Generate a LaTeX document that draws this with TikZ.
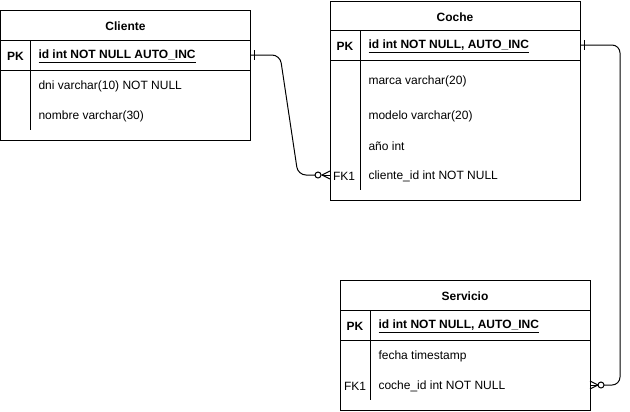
\documentclass[tikz,border=0pt]{standalone}
\usepackage{fontspec}
\setmainfont{Liberation Sans}
\begin{document}
\begin{tikzpicture}[x=0.75pt,y=-0.75pt,line width=0.75pt,
  font=\fontsize{9}{11}\selectfont,
  cell/.style={draw,rectangle,inner sep=0pt,outer sep=0pt,minimum width=187.5pt,minimum height=#1},
  cell/.default=22.5pt,
  row/.style={rectangle,inner sep=0pt,outer sep=0pt,minimum width=187.5pt,minimum height=22.5pt},
  fld/.style={anchor=west,inner sep=0pt,yshift=-1.1pt},
  key/.style={inner sep=0pt,yshift=-1.1pt},
  title/.style={font=\fontsize{9}{11}\selectfont\bfseries,inner sep=0pt,yshift=-1.1pt},
  conn/.style={line width=0.75pt,rounded corners=6pt}]
\useasboundingbox (0,0) rectangle (630,411);

% ---------- Cliente ----------
\node[cell] (cli-h) at (125.5,25) {};
\node[cell] (cli-pk) at (125.5,55) {};
\node[cell=52.5pt] (cli-b) at (125.5,105) {};
\node[title] (cli-t) at (125.5,25) {Cliente};
\draw (30.5,40) -- (30.5,130);
\node[key,font=\fontsize{9}{11}\selectfont\bfseries] (cli-pkl) at (15.5,55) {PK};
\node[fld,font=\fontsize{9}{11}\selectfont\bfseries] (cli-id) at (38,55) {\underline{id int NOT NULL AUTO\_INC}};
\node[fld] (cli-dni) at (38,85) {dni varchar(10) NOT NULL};
\node[fld] (cli-nom) at (38,115) {nombre varchar(30)};

% ---------- Coche ----------
\node[cell=21.75pt] (coc-h) at (455,15.5) {};
\node[cell] (coc-pk) at (455,45) {};
\node[cell=105pt] (coc-b) at (455,130) {};
\node[title] (coc-t) at (455,15.5) {Coche};
\draw (360,30) -- (360,190);
\node[key,font=\fontsize{9}{11}\selectfont\bfseries] (coc-pkl) at (345,45) {PK};
\node[fld,font=\fontsize{9}{11}\selectfont\bfseries] (coc-id) at (368,45) {\underline{id int NOT NULL, AUTO\_INC}};
\node[fld] (coc-mar) at (368,80) {marca varchar(20)};
\node[fld] (coc-mod) at (368,115) {modelo varchar(20)};
\node[fld] (coc-ano) at (368,145) {año int};
\node[row] (coc-fk) at (455,175) {};
\node[key] (coc-fkl) at (344,175) {FK1};
\node[fld] (coc-cid) at (368,175) {cliente\_id int NOT NULL};

% ---------- Servicio ----------
\node[cell] (srv-h) at (465,295) {};
\node[cell] (srv-pk) at (465,325) {};
\node[cell=52.5pt] (srv-b) at (465,375) {};
\node[title] (srv-t) at (465,295) {Servicio};
\draw (370,310) -- (370,400);
\node[key,font=\fontsize{9}{11}\selectfont\bfseries] (srv-pkl) at (355,325) {PK};
\node[fld,font=\fontsize{9}{11}\selectfont\bfseries] (srv-id) at (378,325) {\underline{id int NOT NULL, AUTO\_INC}};
\node[fld] (srv-fec) at (378,355) {fecha timestamp};
\node[row] (srv-fk) at (465,385) {};
\node[key] (srv-fkl) at (355,385) {FK1};
\node[fld] (srv-cid) at (378,385) {coche\_id int NOT NULL};

% ---------- Connector Cliente -> Coche ----------
\coordinate (c1a) at (280,55);
\coordinate (c1b) at (298,175);
\coordinate (c1o) at (318,175);
\draw[conn] (cli-pk.east) -- (c1a) -- (c1b) -- (c1o);
\draw (coc-fk.west) -- ++(-8,0);
\draw (coc-fk.west) ++(0,-4) -- ++(-8,4) -- ++(8,4);
\draw[fill=white] (c1o) circle[radius=2.25pt];
\draw (cli-pk.east) ++(4,-5) -- ++(0,10);

% ---------- Connector Coche -> Servicio ----------
\coordinate (c2a) at (620,45);
\coordinate (c2b) at (620,385);
\coordinate (c2o) at (601,385);
\draw[conn] (coc-pk.east) -- (c2a) -- (c2b) -- (c2o);
\draw (srv-fk.east) -- ++(8,0);
\draw (srv-fk.east) ++(0,-4) -- ++(8,4) -- ++(-8,4);
\draw[fill=white] (c2o) circle[radius=2.25pt];
\draw (coc-pk.east) ++(4,-5) -- ++(0,10);
\end{tikzpicture}
\end{document}
